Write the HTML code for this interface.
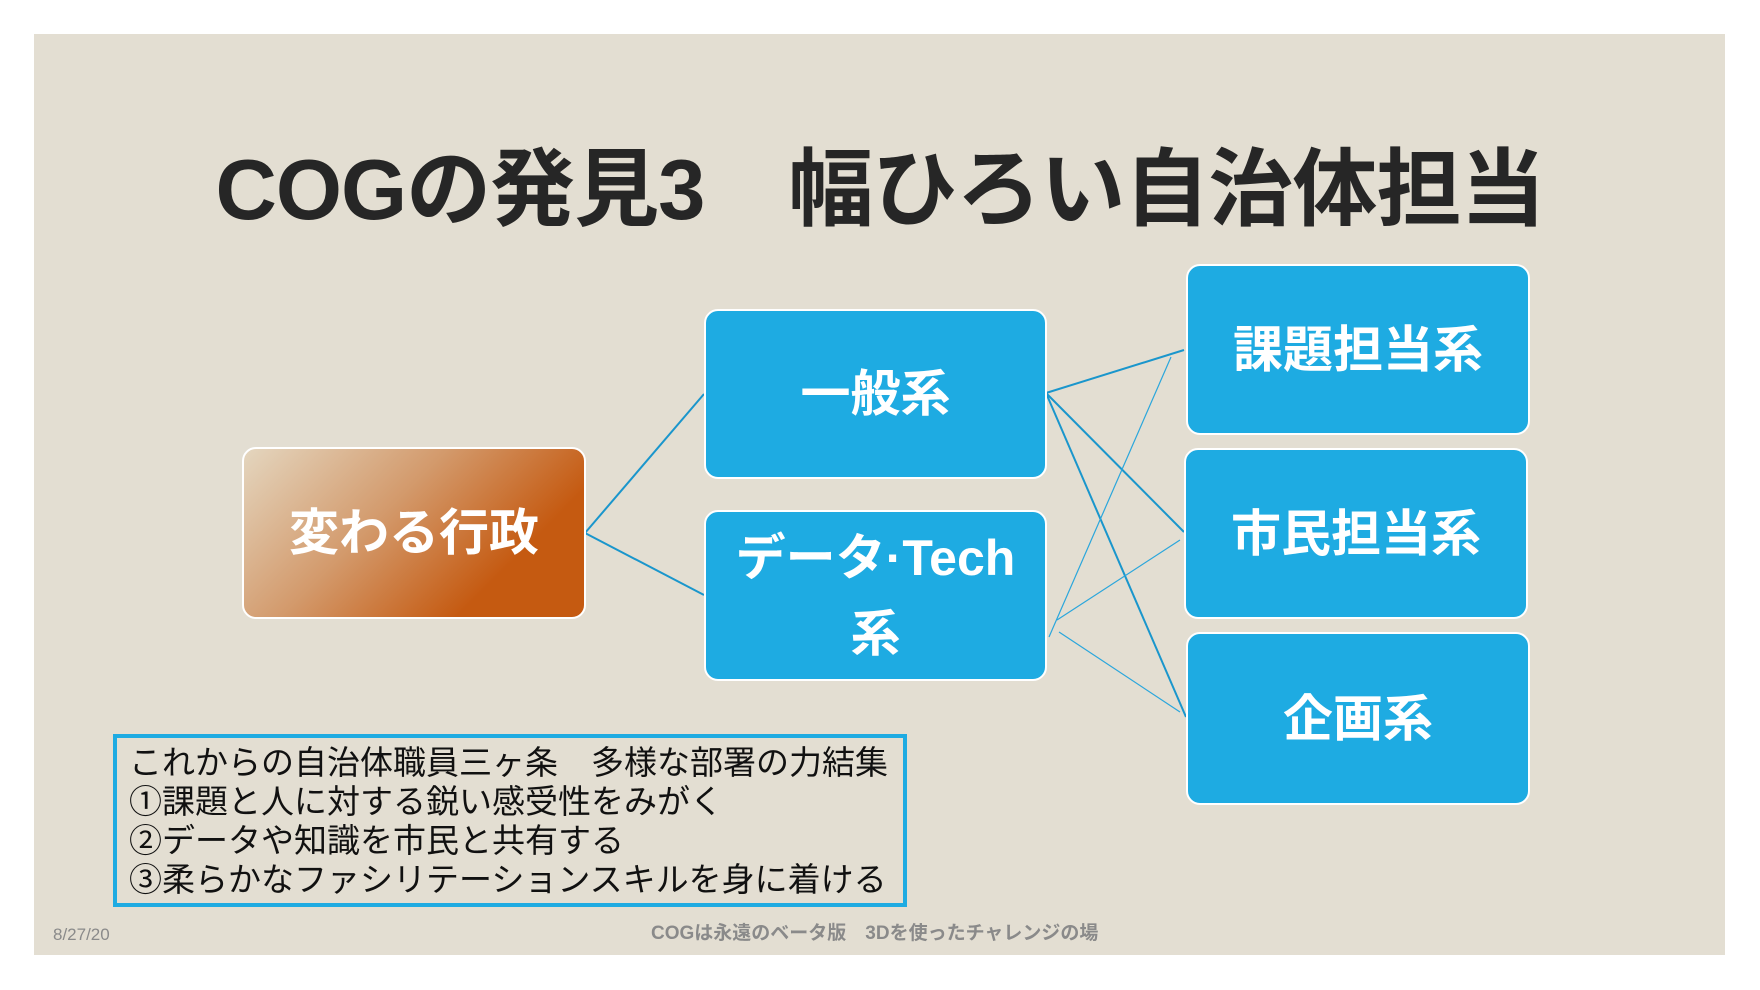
<!DOCTYPE html>
<html><head><meta charset="utf-8"><style>
body{margin:0;width:1760px;height:990px;background:#fff;position:relative;overflow:hidden;font-family:"Liberation Sans","Noto Sans CJK JP",sans-serif}
.slide{position:absolute;left:34px;top:34px;width:1691px;height:921px;background:#e3ded2}
.t{position:absolute;left:0;width:1760px;top:136px;text-align:center;font-size:85px;font-weight:bold;color:#262626;letter-spacing:-1px;line-height:110px;white-space:nowrap}
.b{position:absolute;background:#1eabe2;border:2px solid #fff;border-radius:14px;color:#fff;font-weight:bold;font-size:50px;display:flex;align-items:center;justify-content:center;text-align:center;line-height:76px;box-sizing:border-box}
.o{background:linear-gradient(135deg,#e4d6bf 0%,#d39a6c 40%,#c55a11 75%)}
.tb{position:absolute;left:113px;top:734px;width:794px;height:173px;border:4px solid #1eabe2;box-sizing:border-box;font-size:33px;line-height:39px;color:#111;padding:5px 0 0 12px;white-space:nowrap}
</style></head><body>
<div class="slide"></div>
<div class="t">COGの発見3　幅ひろい自治体担当</div>
<svg style="position:absolute;left:0;top:0" width="1760" height="990">
<g stroke="#1a96cc" stroke-width="2" fill="none">
<line x1="585" y1="533" x2="704" y2="394"/>
<line x1="585" y1="533" x2="704" y2="595"/>
<line x1="1046" y1="393" x2="1184" y2="350"/>
<line x1="1046" y1="393" x2="1184" y2="532"/>
<line x1="1046" y1="393" x2="1186" y2="717"/>
</g>
<g stroke="#2aa6dc" stroke-width="1.2" fill="none">
<line x1="1171" y1="357" x2="1049" y2="637"/>
<line x1="1057" y1="620" x2="1180" y2="540"/>
<line x1="1059" y1="632" x2="1180" y2="712"/>
</g>
</svg>
<div class="b o" style="left:242px;top:447px;width:344px;height:172px">変わる行政</div>
<div class="b" style="left:704px;top:309px;width:343px;height:170px">一般系</div>
<div class="b" style="left:704px;top:510px;width:343px;height:171px">データ·Tech<br>系</div>
<div class="b" style="left:1186px;top:264px;width:344px;height:171px">課題担当系</div>
<div class="b" style="left:1184px;top:448px;width:344px;height:171px">市民担当系</div>
<div class="b" style="left:1186px;top:632px;width:344px;height:173px">企画系</div>
<div class="tb">これからの自治体職員三ヶ条　多様な部署の力結集<br>①課題と人に対する鋭い感受性をみがく<br>②データや知識を市民と共有する<br>③柔らかなファシリテーションスキルを身に着ける</div>
<div style="position:absolute;left:53px;top:925px;font-size:17px;color:#8a8a8a">8/27/20</div>
<div style="position:absolute;left:651px;top:918px;font-size:19px;font-weight:bold;color:#8a8a8a;white-space:nowrap">COGは永遠のベータ版　3Dを使ったチャレンジの場</div>
</body></html>
